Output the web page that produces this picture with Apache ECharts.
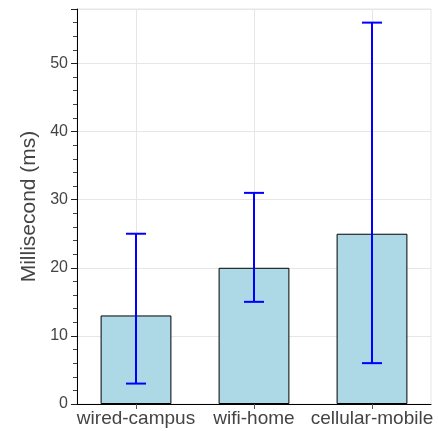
<!DOCTYPE html>
<html>
<head>
<meta charset="utf-8">
<script src="https://cdn.jsdelivr.net/npm/echarts@6/dist/echarts.min.js"></script>
<style>
html,body{margin:0;padding:0;background:#fff;}
#chart{width:438px;height:431px;}
</style>
</head>
<body>
<div id="chart"></div>
<script>
const categories = ['wired-campus', 'wifi-home', 'cellular-mobile'];
const meanValues = [13, 20, 25];
const lowerValues = [3, 15, 6];
const upperValues = [25, 31, 56];
const yTicks = [0, 10, 20, 30, 40, 50];

const FONT = '"Liberation Sans", Arial, Helvetica, sans-serif';
const chart = echarts.init(document.getElementById('chart'), null, {renderer: 'canvas'});

const option = {
  animation: false,
  backgroundColor: '#ffffff',
  grid: {left: 77, right: 7, top: 9, bottom: 27, show: true, borderColor: '#e6e6e6', borderWidth: 1, backgroundColor: 'transparent'},
  xAxis: {
    type: 'category',
    data: categories,
    boundaryGap: true,
    axisLine: {show: true, lineStyle: {color: '#000', width: 1}},
    axisTick: {show: true, alignWithLabel: true, interval: 0, length: 5, lineStyle: {color: '#555'}},
    axisLabel: {fontFamily: FONT, fontSize: 19, color: '#444', margin: 5, interval: 0, hideOverlap: false},
    splitLine: {show: false}
  },
  yAxis: {
    type: 'value',
    min: 0,
    max: 58,
    interval: 10,
    name: 'Millisecond (ms)',
    nameLocation: 'middle',
    nameRotate: 90,
    nameGap: 35,
    nameTextStyle: {fontFamily: FONT, fontSize: 21, color: '#444'},
    axisLine: {show: true, lineStyle: {color: '#000', width: 1}},
    axisTick: {show: true, length: 6, lineStyle: {color: '#222'}},
    minorTick: {show: true, splitNumber: 5, length: 4, lineStyle: {color: '#444'}},
    axisLabel: {fontFamily: FONT, fontSize: 16, color: '#444', margin: 9, showMaxLabel: false,
      formatter: v => (yTicks.indexOf(v) >= 0 ? String(v) : '')},
    splitLine: {show: true, lineStyle: {color: '#e6e6e6', width: 1}}
  },
  series: [
    {
      type: 'custom',
      z: 1,
      silent: true,
      data: categories.map((c, i) => [i]),
      renderItem: function (params, api) {
        const x = api.coord([api.value(0), 0])[0];
        const cs = params.coordSys;
        return {type: 'line', shape: {x1: Math.round(x) + 0.5, y1: cs.y, x2: Math.round(x) + 0.5, y2: cs.y + cs.height},
          style: {stroke: '#e6e6e6', lineWidth: 1}};
      }
    },
    {
      type: 'bar',
      z: 2,
      data: meanValues,
      barWidth: '60%',
      itemStyle: {color: '#add8e6', borderColor: '#000', borderWidth: 1}
    },
    {
      type: 'custom',
      z: 3,
      data: categories.map((c, i) => [i, lowerValues[i], upperValues[i]]),
      renderItem: function (params, api) {
        const lo = api.coord([api.value(0), api.value(1)]);
        const hi = api.coord([api.value(0), api.value(2)]);
        const cap = 10;
        const st = {stroke: '#0000ff', lineWidth: 2};
        return {type: 'group', children: [
          {type: 'line', shape: {x1: lo[0], y1: lo[1], x2: hi[0], y2: hi[1]}, style: st},
          {type: 'line', shape: {x1: hi[0] - cap, y1: hi[1], x2: hi[0] + cap, y2: hi[1]}, style: st},
          {type: 'line', shape: {x1: lo[0] - cap, y1: lo[1], x2: lo[0] + cap, y2: lo[1]}, style: st}
        ]};
      }
    }
  ]
};
chart.setOption(option);
</script>
</body>
</html>
